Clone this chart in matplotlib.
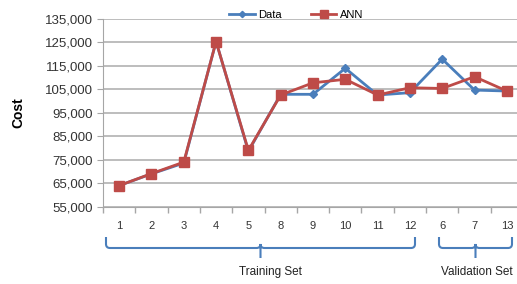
import matplotlib.pyplot as plt
from matplotlib.path import Path
from matplotlib.patches import PathPatch
from matplotlib.ticker import FuncFormatter, FixedLocator

# chart data
labels = ['1', '2', '3', '4', '5', '8', '9', '10', '11', '12', '6', '7', '13']
data = [64000, 69000, 73600, 125400, 78600, 102900, 102900, 114000, 102600, 103600, 117900, 104700, 104300]
ann = [64000, 69100, 74000, 125400, 79000, 102600, 107800, 109300, 102600, 105700, 105400, 110400, 104300]
groups = ['Training Set', 'Validation Set']

blue = '#4A7EBB'
red = '#BE4B48'
grey = '#A6A6A6'

plt.rcParams['font.family'] = ['Liberation Sans', 'DejaVu Sans']

fig = plt.figure(figsize=(5.17, 2.84), dpi=100)
ax = fig.add_axes([103/517, 1-206.7/284, 420/517, (206.7-19)/284])

x = list(range(len(labels)))
ax.plot(x, data, color=blue, lw=2, marker='D', ms=4, label='Data', zorder=3)
ax.plot(x, ann, color=red, lw=2, marker='s', ms=6.5, label='ANN', zorder=4)

ax.set_xlim(-0.5, len(labels) - 0.5)
ax.set_ylim(55000, 135000)
ax.set_yticks(range(55000, 135001, 10000))
ax.yaxis.set_major_formatter(FuncFormatter(lambda v, p: f'{int(v):,}'))
ax.set_xticks(x)
ax.set_xticklabels(labels)
ax.xaxis.set_minor_locator(FixedLocator([i - 0.5 for i in range(len(labels) + 1)]))
ax.tick_params(axis='x', which='major', length=0, pad=10, labelsize=8, colors='#333333')
ax.tick_params(axis='x', which='minor', length=4, color=grey, width=1)
ax.tick_params(axis='y', length=4, color=grey, labelsize=9.5, colors='#333333', pad=3)
ax.grid(axis='y', color='#ABABAB', lw=1.1)
ax.set_axisbelow(True)
for s in ['top', 'right']:
    ax.spines[s].set_visible(False)
for s in ['left', 'bottom']:
    ax.spines[s].set_color(grey)
ax.set_ylabel('Cost', fontsize=10, fontweight='bold', labelpad=14)

leg = ax.legend(loc='lower center', bbox_to_anchor=(0.46, 0.97), ncol=2, frameon=False,
                fontsize=8, handlelength=2.3, handletextpad=0.3, columnspacing=2.6,
                borderaxespad=0, markerscale=0.8)


def brace(x0, x1, y0, y1, ytip):
    # curly brace drawn in figure pixel coords
    r = 4
    xm = (x0 + x1) / 2
    verts = [(x0, y0), (x0, y1 - r), (x0, y1), (x0 + r, y1),
             (xm - r, y1), (xm, y1), (xm, y1 - r), (xm, ytip),
             (xm, y1 - r), (xm, y1), (xm + r, y1),
             (x1 - r, y1), (x1, y1), (x1, y1 - r), (x1, y0)]
    codes = [Path.MOVETO, Path.LINETO, Path.CURVE3, Path.CURVE3,
             Path.LINETO, Path.CURVE3, Path.CURVE3, Path.LINETO,
             Path.MOVETO, Path.CURVE3, Path.CURVE3,
             Path.LINETO, Path.CURVE3, Path.CURVE3, Path.LINETO]
    verts = [(vx / 517, 1 - vy / 284) for vx, vy in verts]
    fig.add_artist(PathPatch(Path(verts, codes), transform=fig.transFigure,
                             fill=False, edgecolor=blue, lw=1.5))


brace(106, 415, 237, 248, 258)
brace(439, 512, 237, 248, 258)
fig.text(270/517, 1 - 272/284, groups[0], ha='center', va='center', fontsize=8.5, color='#222222')
fig.text(477/517, 1 - 272/284, groups[1], ha='center', va='center', fontsize=8.5, color='#222222')

fig.savefig('out.png', dpi=100)
